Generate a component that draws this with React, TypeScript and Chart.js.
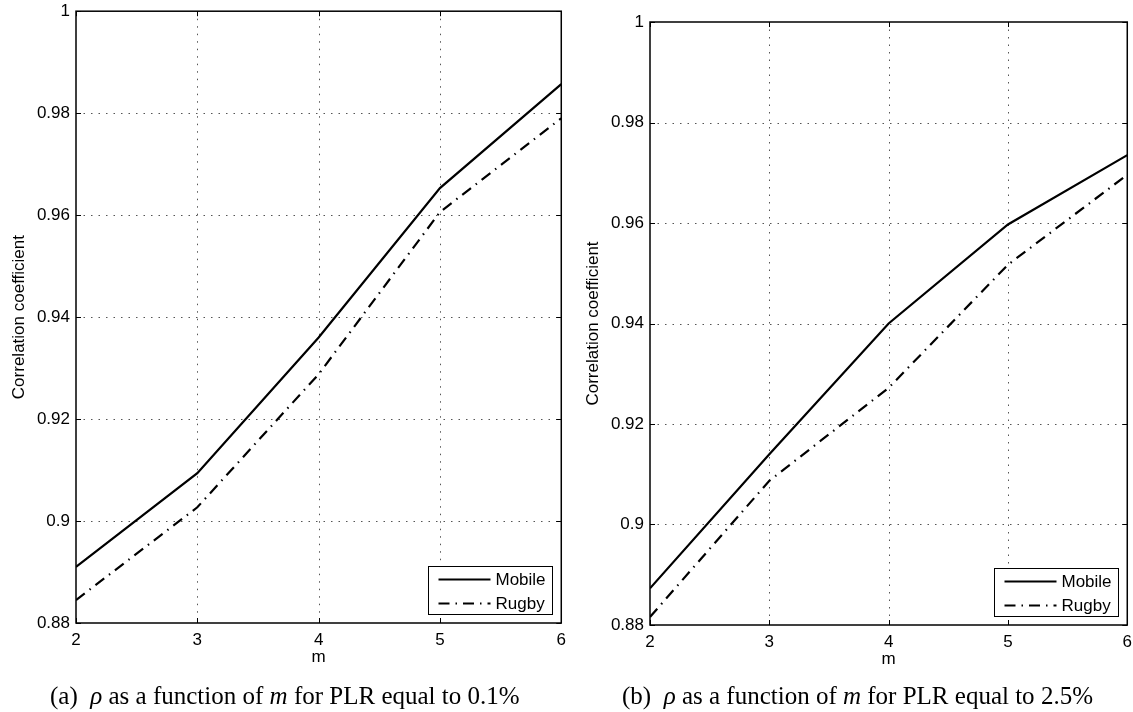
import React, { useEffect, useRef } from "react";
import { Chart, registerables } from "chart.js";

Chart.register(...registerables);

// ---- data ----
const mValues = [2, 3, 4, 5, 6];
const mobilePLR01 = [0.891, 0.9094, 0.936, 0.9653, 0.9857];
const rugbyPLR01 = [0.8845, 0.9027, 0.9288, 0.9606, 0.979];
const mobilePLR25 = [0.8873, 0.914, 0.94, 0.9597, 0.9735];
const rugbyPLR25 = [0.8816, 0.9087, 0.9272, 0.9517, 0.9696];
const seriesNames = ["Mobile", "Rugby"];
const xAxisTitle = "m";
const yAxisTitle = "Correlation coefficient";
const xRange = [2, 6];
const yRange = [0.88, 1];
const yStep = 0.02;
const xStep = 1;
const captionLetters = ["(a)", "(b)"];
const captionPLR = ["0.1%", "2.5%"];

const SANS = "'Liberation Sans', Arial, Helvetica, sans-serif";
const FONT = { family: SANS, size: 17 };

const framePlugin = {
  id: "matlabFrame",
  beforeDatasetsDraw(chart: any) {
    const { ctx, chartArea: a, scales } = chart;
    const x = scales.x;
    const y = scales.y;
    ctx.save();
    ctx.strokeStyle = "#555";
    ctx.lineWidth = 1;
    ctx.setLineDash([1.5, 6]);
    for (const t of x.ticks) {
      const px = Math.round(x.getPixelForValue(t.value)) + 0.5;
      if (px <= a.left + 1 || px >= a.right - 1) continue;
      ctx.beginPath();
      ctx.moveTo(px, a.top);
      ctx.lineTo(px, a.bottom);
      ctx.stroke();
    }
    for (const t of y.ticks) {
      const py = Math.round(y.getPixelForValue(t.value)) + 0.5;
      if (py <= a.top + 1 || py >= a.bottom - 1) continue;
      ctx.beginPath();
      ctx.moveTo(a.left, py);
      ctx.lineTo(a.right, py);
      ctx.stroke();
    }
    ctx.restore();
  },
  afterDatasetsDraw(chart: any) {
    const { ctx, chartArea: a, scales } = chart;
    const x = scales.x;
    const y = scales.y;
    ctx.save();
    ctx.setLineDash([]);
    ctx.strokeStyle = "#000";
    ctx.lineWidth = 1.5;
    ctx.strokeRect(a.left, a.top, a.right - a.left, a.bottom - a.top);
    ctx.lineWidth = 1;
    const tl = 5;
    for (const t of x.ticks) {
      const px = Math.round(x.getPixelForValue(t.value)) + 0.5;
      ctx.beginPath();
      ctx.moveTo(px, a.bottom);
      ctx.lineTo(px, a.bottom - tl);
      ctx.moveTo(px, a.top);
      ctx.lineTo(px, a.top + tl);
      ctx.stroke();
    }
    for (const t of y.ticks) {
      const py = Math.round(y.getPixelForValue(t.value)) + 0.5;
      ctx.beginPath();
      ctx.moveTo(a.left, py);
      ctx.lineTo(a.left + tl, py);
      ctx.moveTo(a.right, py);
      ctx.lineTo(a.right - tl, py);
      ctx.stroke();
    }

    // legend box
    const w = 124;
    const h = 48;
    const bx = Math.round(a.right - 9 - w) + 0.5;
    const by = Math.round(a.bottom - 9 - h) + 0.5;
    ctx.fillStyle = "#fff";
    ctx.fillRect(bx, by, w, h);
    ctx.strokeStyle = "#000";
    ctx.lineWidth = 1;
    ctx.strokeRect(bx, by, w, h);
    const datasets = chart.data.datasets;
    datasets.forEach((ds: any, i: number) => {
      const ly = by + 13 + i * 24;
      ctx.save();
      ctx.strokeStyle = ds.borderColor;
      ctx.lineWidth = ds.borderWidth;
      ctx.setLineDash(ds.borderDash || []);
      ctx.beginPath();
      ctx.moveTo(bx + 10, ly);
      ctx.lineTo(bx + 62, ly);
      ctx.stroke();
      ctx.restore();
      ctx.fillStyle = "#000";
      ctx.font = `17px ${SANS}`;
      ctx.textBaseline = "middle";
      ctx.textAlign = "left";
      ctx.fillText(ds.label, bx + 67, ly + 1);
    });
    ctx.restore();
  },
};

type PanelProps = {
  mobile: number[];
  rugby: number[];
  left: number;
  top: number;
  width: number;
  pad: { left: number; top: number; right: number; bottom: number };
};

function Panel({ mobile, rugby, left, top, width, pad }: PanelProps) {
  const ref = useRef<HTMLCanvasElement | null>(null);
  useEffect(() => {
    if (!ref.current) return;
    const chart = new Chart(ref.current, {
      type: "line",
      data: {
        datasets: [
          {
            label: seriesNames[0],
            data: mValues.map((m, i) => ({ x: m, y: mobile[i] })),
            borderColor: "#000",
            borderWidth: 2.2,
            pointRadius: 0,
            fill: false,
            tension: 0,
          },
          {
            label: seriesNames[1],
            data: mValues.map((m, i) => ({ x: m, y: rugby[i] })),
            borderColor: "#000",
            borderWidth: 2.2,
            borderDash: [11, 6, 1.5, 6],
            pointRadius: 0,
            fill: false,
            tension: 0,
          },
        ],
      },
      options: {
        responsive: false,
        animation: false,
        layout: { padding: pad },
        plugins: { legend: { display: false }, tooltip: { enabled: false } },
        scales: {
          x: {
            type: "linear",
            min: xRange[0],
            max: xRange[1],
            ticks: {
              stepSize: xStep,
              font: FONT,
              color: "#000",
              padding: 7,
              callback: (v: any) => String(v),
            },
            grid: { display: false, drawTicks: false },
            border: { display: false },
            title: {
              display: true,
              text: xAxisTitle,
              font: FONT,
              color: "#000",
              padding: { top: 0, bottom: 5 },
            },
            afterFit: (s: any) => {
              s.height = 50;
            },
          },
          y: {
            type: "linear",
            min: yRange[0],
            max: yRange[1],
            ticks: {
              stepSize: yStep,
              font: FONT,
              color: "#000",
              padding: 6,
              callback: (v: any) => String(parseFloat(Number(v).toFixed(2))),
            },
            grid: { display: false, drawTicks: false },
            border: { display: false },
            title: {
              display: true,
              text: yAxisTitle,
              font: FONT,
              color: "#000",
              padding: { top: 9, bottom: 0 },
            },
            afterFit: (s: any) => {
              s.width = 76;
            },
          },
        },
      } as any,
      plugins: [framePlugin],
    });
    return () => chart.destroy();
  }, []);
  return (
    <canvas
      ref={ref}
      width={width}
      height={712}
      style={{ position: "absolute", left, top, width, height: 712 }}
    />
  );
}

function Caption({ idx, left }: { idx: number; left: number }) {
  return (
    <div
      style={{
        position: "absolute",
        left,
        top: 683,
        whiteSpace: "nowrap",
        fontFamily: "'Liberation Serif', 'Times New Roman', serif",
        fontSize: 25,
        lineHeight: "25px",
        color: "#000",
      }}
    >
      {captionLetters[idx]}&nbsp; <i>ρ</i> as a function of <i>m</i> for PLR equal to{" "}
      {captionPLR[idx]}
    </div>
  );
}

export default function App() {
  return (
    <div
      style={{
        position: "absolute",
        left: 0,
        top: 0,
        width: 1133,
        height: 712,
        background: "#fff",
        overflow: "hidden",
      }}
    >
      <Panel
        mobile={mobilePLR01}
        rugby={rugbyPLR01}
        left={0}
        top={-5}
        width={573}
        pad={{ left: 0, top: 11, right: 0, bottom: 34 }}
      />
      <Panel
        mobile={mobilePLR25}
        rugby={rugbyPLR25}
        left={566}
        top={0}
        width={573}
        pad={{ left: 8, top: 22, right: 0, bottom: 37 }}
      />
      <Caption idx={0} left={50} />
      <Caption idx={1} left={622} />
    </div>
  );
}
